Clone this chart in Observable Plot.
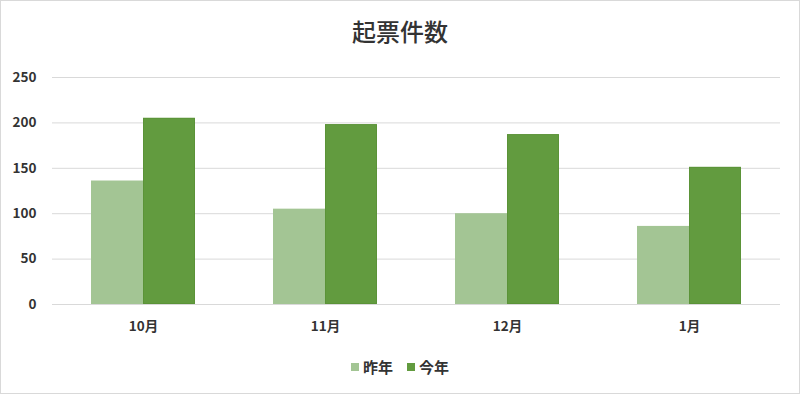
<!DOCTYPE html>
<html>
<head>
<meta charset="utf-8">
<script src="https://cdn.jsdelivr.net/npm/d3@7"></script>
<script src="https://cdn.jsdelivr.net/npm/@observablehq/plot@0.6"></script>
<style>
  html, body { margin: 0; padding: 0; background: #fff; }
  #frame {
    position: relative; width: 800px; height: 394px; box-sizing: border-box;
    box-shadow: inset 0 0 0 1px #d9d9d9; background: #fff;
    font-family: "Noto Sans CJK JP", "Noto Sans", sans-serif; color: #333;
  }
  #title { height: 62px; box-sizing: border-box; padding-top: 16px; line-height: 30px;
    font-size: 24px; font-weight: 500; text-align: center; }
  #chart svg { display: block; }
  #legend { display: flex; justify-content: center; align-items: center; gap: 14px;
    padding-top: 15px; line-height: 20px; font-size: 15px; font-weight: 600; }
  .item { display: flex; align-items: center; gap: 4px; }
  .swatch { width: 8px; height: 8px; display: inline-block; }
</style>
</head>
<body>
<div id="frame">
  <div id="title">起票件数</div>
  <div id="chart"></div>
  <div id="legend"></div>
</div>
<script>
// Monthly ticket counts, last year vs this year
const months = ["10月", "11月", "12月", "1月"];
const lastYear = [136, 105, 100, 86];
const thisYear = [205, 198, 187, 151];
const seriesNames = ["昨年", "今年"];
const seriesColors = ["#a3c594", "#629b3f"];
const yTicks = [0, 50, 100, 150, 200, 250];

const data = months.flatMap((m, i) => [
  {month: m, series: seriesNames[0], value: lastYear[i]},
  {month: m, series: seriesNames[1], value: thisYear[i]}
]);

const chart = Plot.plot({
  width: 800,
  height: 280,
  marginTop: 15,
  marginBottom: 38,
  marginLeft: 52,
  marginRight: 20,
  style: {background: "transparent", fontFamily: "'Noto Sans CJK JP', sans-serif", fontSize: "13.5px", fontWeight: 600, color: "#333"},
  fx: {domain: months, padding: 0, label: null, tickSize: 0, tickPadding: 17, axis: "bottom"},
  x: {domain: seriesNames, paddingInner: 0, paddingOuter: 0.75, axis: null},
  y: {domain: [0, 250], ticks: yTicks, tickSize: 0, tickPadding: 16, label: null},
  color: {domain: seriesNames, range: seriesColors},
  marks: [
    Plot.ruleY(yTicks, {stroke: "#d9d9d9", strokeWidth: 1}),
    Plot.barY(data, {fx: "month", x: "series", y: "value", fill: "series"}),
    Plot.barY(data.filter(d => d.series === seriesNames[1]), {fx: "month", x: "series", y: "value",
      fill: "none", stroke: "#5a9238", strokeWidth: 0.8, inset: 0.4})
  ]
});
document.getElementById("chart").appendChild(chart);

// Legend below the plot
const legend = document.getElementById("legend");
seriesNames.forEach((name, i) => {
  const item = document.createElement("span");
  item.className = "item";
  const sw = document.createElement("span");
  sw.className = "swatch";
  sw.style.background = seriesColors[i];
  const label = document.createElement("span");
  label.textContent = name;
  item.append(sw, label);
  legend.appendChild(item);
});
</script>
</body>
</html>
